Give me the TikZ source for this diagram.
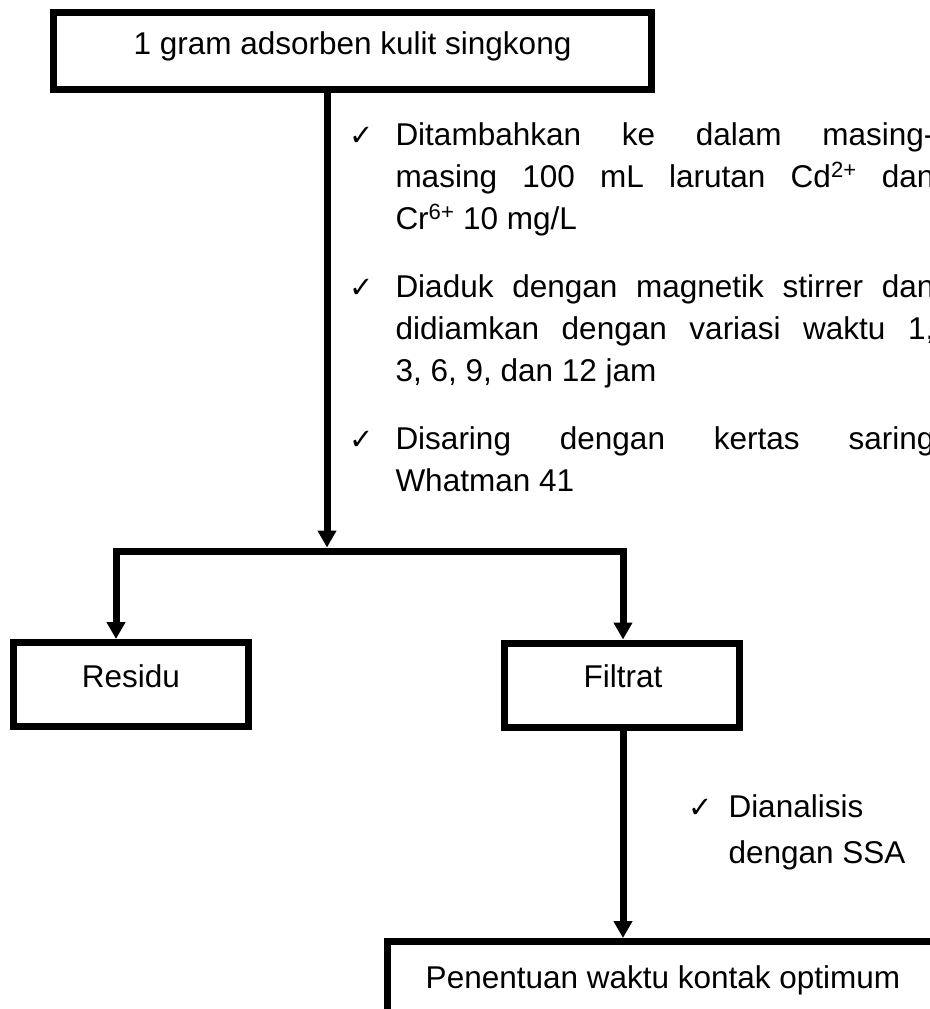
\documentclass[tikz,border=0pt]{standalone}
\usepackage{fontspec}
\setmainfont{Liberation Sans}
\newfontfamily\symfont{DejaVu Sans}
\usetikzlibrary{arrows.meta}
\begin{document}
\begin{tikzpicture}[x=1pt,y=-1pt,line width=7pt,
  box/.style={draw, rectangle, inner sep=0pt},
  txt/.style={inner sep=0pt, anchor=base, font=\fontsize{31.5}{42}\selectfont},
  para/.style={inner sep=0pt, anchor=base west, font=\fontsize{31.5}{42}\selectfont},
  chk/.style={inner sep=0pt, anchor=base west, font=\symfont\fontsize{29}{29}\selectfont},
  arr/.style={-{Triangle[length=17pt,width=18pt]}},
]
\useasboundingbox (0,0) rectangle (929,1009);

% boxes
\node[box, minimum width=598pt, minimum height=76.5pt] (top) at (352.5,50.75) {};
\node[box, minimum width=234.5pt, minimum height=84pt] (residu) at (130.75,684.5) {};
\node[box, minimum width=234.5pt, minimum height=84pt] (filtrat) at (621.75,685) {};
\node[box, minimum width=613pt, minimum height=160pt] (bottom) at (693.5,1021.5) {};

% box texts
\node[txt] (ttop) at (352.5,54.5) {1 gram adsorben kulit singkong};
\node[txt] (tresidu) at (131,687) {Residu};
\node[txt] (tfiltrat) at (623,687) {Filtrat};
\node[txt] (tbottom) at (663,988) {Penentuan waktu kontak optimum};

% junctions
\coordinate (jn) at (327,551);
\coordinate (jl) at (116,551);
\coordinate (jr) at (623,551);

% connectors
\draw[arr] (top.south -| jn) -- ([yshift=3.5pt]jn);
\draw[arr] (jn) -| (jl |- residu.north);
\draw[arr] (jn) -| (jr |- filtrat.north);
\draw[arr] (jr |- filtrat.south) -- (jr |- bottom.north);

% bullet notes
\node[chk] (c1) at (346,145) {✓};
\node[para] (p1) at (392,145) {\parbox[t]{539pt}{\baselineskip=42pt
  \makebox[539pt][s]{Ditambahkan ke dalam masing-}\\
  \makebox[539pt][s]{masing 100 mL larutan Cd\textsuperscript{2+} dan}\\
  Cr\textsuperscript{6+} 10 mg/L}};
\node[chk] (c2) at (346,297) {✓};
\node[para] (p2) at (392,297) {\parbox[t]{539pt}{\baselineskip=42pt
  \makebox[539pt][s]{Diaduk dengan magnetik stirrer dan}\\
  \makebox[539pt][s]{didiamkan dengan variasi waktu 1,}\\
  3, 6, 9, dan 12 jam}};
\node[chk] (c3) at (346,449) {✓};
\node[para] (p3) at (392,449) {\parbox[t]{539pt}{\baselineskip=42pt
  \makebox[539pt][s]{Disaring dengan kertas saring}\\
  Whatman 41}};

\node[chk] (c4) at (685,817) {✓};
\node[para] (p4) at (725,817) {\parbox[t]{250pt}{\baselineskip=46pt
  Dianalisis\\ dengan SSA}};
\end{tikzpicture}
\end{document}
